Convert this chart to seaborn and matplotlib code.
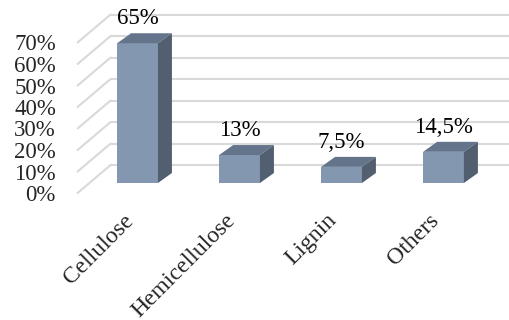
import matplotlib
matplotlib.use("Agg")
import matplotlib.pyplot as plt
from matplotlib.patches import Polygon
from matplotlib.transforms import ScaledTranslation
import seaborn as sns
import pandas as pd

categories = ["Cellulose", "Hemicellulose", "Lignin", "Others"]
values = [0.65, 0.13, 0.075, 0.145]
value_labels = ["65%", "13%", "7,5%", "14,5%"]
ytick_values = [0, 0.1, 0.2, 0.3, 0.4, 0.5, 0.6, 0.7]
ytick_labels = ["0%", "10%", "20%", "30%", "40%", "50%", "60%", "70%"]

sns.set_style("white")
plt.rcParams["font.family"] = ["Liberation Serif", "DejaVu Serif"]

FRONT = "#8497b0"
TOP = "#64748b"
SIDE = "#525f71"
GRID = "#d9d9d9"
FS = 16.5
FSX = 17

W, H = 510, 320
fig = plt.figure(figsize=(W / 100, H / 100), dpi=100)
xlim = (-0.47, 3.65)
ylim = (0, 0.7)
ax_left, ax_right = 89.6, 509.8
ax_bottom_top, ax_top_top = 183.0, 32.5
ax = fig.add_axes([ax_left / W, (H - ax_bottom_top) / H,
                   (ax_right - ax_left) / W, (ax_bottom_top - ax_top_top) / H])
ax.set_xlim(*xlim)
ax.set_ylim(*ylim)
sx = (ax_right - ax_left) / (xlim[1] - xlim[0])
sy = (ax_bottom_top - ax_top_top) / (ylim[1] - ylim[0])

df = pd.DataFrame({"cat": categories, "val": values})
sns.barplot(data=df, x="cat", y="val", color=FRONT, saturation=1, width=0.4,
            ax=ax, zorder=3, linewidth=0)
ax.set_xlim(*xlim)
ax.set_ylim(*ylim)

# back wall gridlines and side-wall diagonals
bdx, bdy = 21 / sx, 18 / sy
fdx, fdy = -12 / sx, -10 / sy
for v in ytick_values:
    ax.plot([xlim[0] + bdx, xlim[1] + 1], [v + bdy, v + bdy], color=GRID,
            lw=1.5, zorder=0, clip_on=False)
    ax.plot([xlim[0] + fdx, xlim[0] + bdx], [v + fdy, v + bdy], color=GRID,
            lw=1.5, zorder=0, clip_on=False)

# 3D faces for bars
ddx, ddy = 14 / sx, 10 / sy
for p, lab in zip(ax.patches, value_labels):
    x0 = p.get_x()
    x1 = x0 + p.get_width()
    h = p.get_height()
    top = Polygon([(x0, h), (x1, h), (x1 + ddx, h + ddy), (x0 + ddx, h + ddy)],
                  closed=True, facecolor=TOP, edgecolor="none", zorder=3,
                  clip_on=False)
    side = Polygon([(x1, 0), (x1, h), (x1 + ddx, h + ddy), (x1 + ddx, ddy)],
                   closed=True, facecolor=SIDE, edgecolor="none", zorder=3,
                   clip_on=False)
    ax.add_patch(top)
    ax.add_patch(side)
    ax.text((x0 + x1) / 2, h + ddy + 4 / sy, lab, ha="center", va="bottom",
            fontsize=FS, color="black", clip_on=False, zorder=4)

for s in ax.spines.values():
    s.set_visible(False)
ax.grid(False)
ax.set_xlabel("")
ax.set_ylabel("")
ax.set_yticks(ytick_values)
ax.set_yticklabels(ytick_labels, fontsize=FS)
ax.set_xticks(range(len(categories)))
ax.set_xticklabels(categories, fontsize=FSX, rotation=45, ha="right",
                   rotation_mode="anchor")
ax.tick_params(axis="both", length=0, pad=0)

for t in ax.yaxis.get_major_ticks():
    t.label1.set_transform(t.label1.get_transform() +
                           ScaledTranslation(-0.336, -0.10, fig.dpi_scale_trans))
for t in ax.xaxis.get_major_ticks():
    t.label1.set_transform(t.label1.get_transform() +
                           ScaledTranslation(-0.15, -0.27, fig.dpi_scale_trans))

fig.savefig("out.png", dpi=100, facecolor="white")
